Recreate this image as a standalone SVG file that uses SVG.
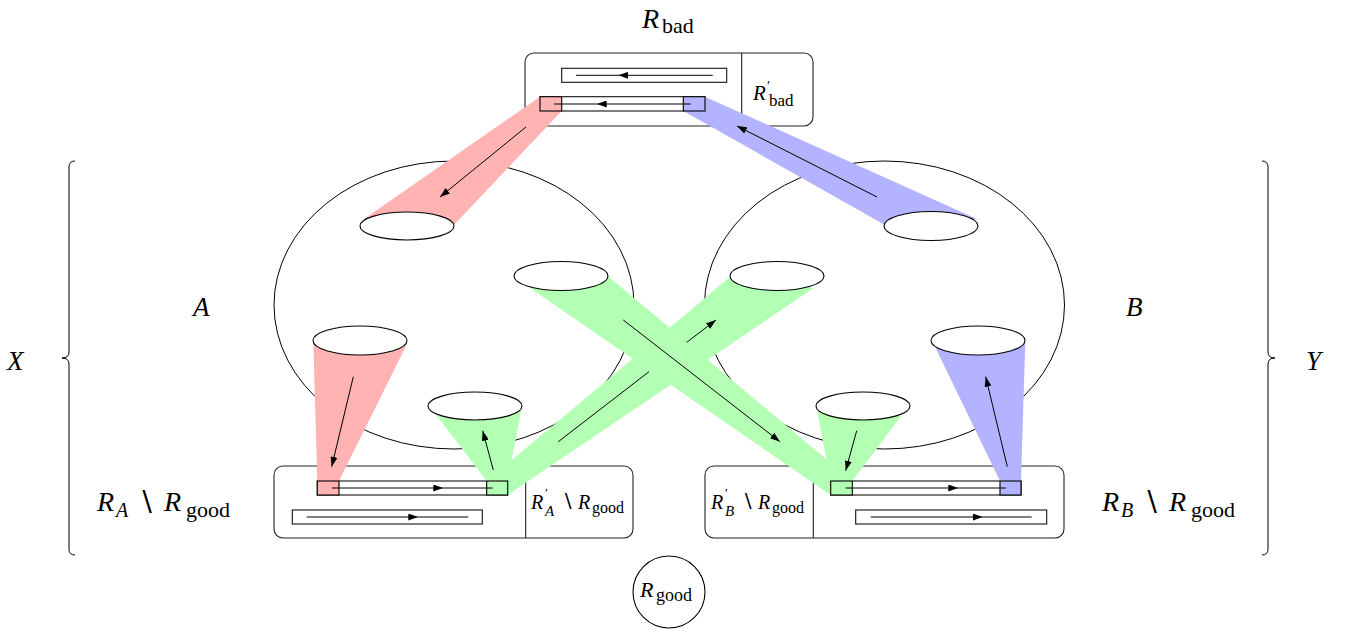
<svg xmlns="http://www.w3.org/2000/svg" width="1351" height="633" viewBox="0 0 1351 633" font-family="'Liberation Serif', 'DejaVu Serif', serif">
  <style>
    .ln{fill:none;stroke:#000;stroke-width:1}
    .box{fill:none;stroke:#222;stroke-width:1.1}
    .bar{fill:#fff;stroke:#111;stroke-width:1.1}
    .cap{fill:#fff;stroke:#000;stroke-width:1.1}
    .big{fill:none;stroke:#000;stroke-width:1}
    .red{fill:#ffb3b3}
    .blue{fill:#b3b3ff}
    .green{fill:#b3ffb3}
    .sq{stroke:#000;stroke-width:1.1}
    text{font-family:'Liberation Serif','DejaVu Serif',serif;fill:#000}
    .it{font-style:italic}
  </style>
  <defs>
    <marker id="head" viewBox="0 0 10 7" refX="10" refY="3.5" markerWidth="10" markerHeight="7" markerUnits="userSpaceOnUse" orient="auto">
      <path d="M0,0 L10,3.5 L0,7 z" fill="#000"/>
    </marker>
  </defs>

  <!-- the two large sets -->
  <g id="setA">
    <ellipse class="big" cx="454" cy="305" rx="180" ry="144"/>
    <text class="it" x="193" y="316" font-size="27">A</text>
  </g>
  <g id="setB">
    <ellipse class="big" cx="884.5" cy="305" rx="180" ry="144"/>
    <text class="it" x="1126" y="316" font-size="27">B</text>
  </g>

  <!-- region boxes -->
  <g id="rbad">
    <rect class="box" x="525" y="53" width="288" height="73" rx="9"/>
    <line class="box" x1="741.7" y1="53" x2="741.7" y2="126"/>
    <rect class="bar" x="561.7" y="68.3" width="165" height="14"/>
    <rect class="bar" x="540" y="96.7" width="165" height="14.3"/>
    <text font-size="21"><tspan class="it" x="753" y="100">R</tspan><tspan x="767" y="91" font-size="14">′</tspan><tspan x="769" y="106" font-size="17">bad</tspan></text>
  </g>
  <g id="ra">
    <rect class="box" x="274" y="466" width="359" height="72" rx="9"/>
    <line class="box" x1="525.7" y1="466" x2="525.7" y2="538"/>
    <rect class="bar" x="317.3" y="481" width="190.4" height="14"/>
    <rect class="bar" x="292.3" y="510" width="190" height="14"/>
    <text font-size="20"><tspan class="it" x="531" y="509">R</tspan><tspan x="545" y="497" font-size="13">′</tspan><tspan class="it" x="545" y="516" font-size="15">A</tspan><tspan x="561" y="509">∖</tspan><tspan class="it" x="578" y="509">R</tspan><tspan x="592" y="513" font-size="16">good</tspan></text>
  </g>
  <g id="rb">
    <rect class="box" x="705" y="466" width="359" height="72" rx="9"/>
    <line class="box" x1="813.3" y1="466" x2="813.3" y2="538"/>
    <rect class="bar" x="830.7" y="481" width="190.3" height="14"/>
    <rect class="bar" x="855.7" y="510" width="191" height="14"/>
    <text font-size="20"><tspan class="it" x="711" y="509">R</tspan><tspan x="725" y="497" font-size="13">′</tspan><tspan class="it" x="725" y="516" font-size="15">B</tspan><tspan x="741" y="509">∖</tspan><tspan class="it" x="758" y="509">R</tspan><tspan x="772" y="513" font-size="16">good</tspan></text>
  </g>
  <g id="rgood">
    <circle cx="669" cy="592" r="36" fill="none" stroke="#000" stroke-width="1.1"/>
    <text font-size="22"><tspan class="it" x="640" y="597">R</tspan><tspan x="656" y="601" font-size="18">good</tspan></text>
  </g>

  <!-- connectors: shaded beams, end squares, and flow arrows -->
  <g id="connectors">
    <polygon class="red" points="540,96.7 561.7,96.7 561.7,111 454,225 407,226 364,219"/>
    <polygon class="blue" points="683.3,111 683.3,96.7 705,96.7 977,219 931,226 885,225"/>
    <polygon class="red" points="317.3,495 317.3,481 313.3,341 360,341 406,346 339,481 339,495"/>
    <polygon class="blue" points="1000,495 1000,481 935,346.7 978,341 1025.3,341.7 1021,481 1021,495"/>
    <polygon class="green" points="486.7,495 486.7,481 435,413.3 475,406 521.7,406.7 507.7,481 507.7,495"/>
    <polygon class="green" points="830.7,495 830.7,481 816.7,408.3 863,406 903.3,413.3 852.3,481 852.3,495"/>
    <polygon class="green" points="486.7,481 730,277 777,276 813.3,288.3 507.7,495"/>
    <polygon class="green" points="514,277 561,276 608.7,276.7 852.3,481 830.7,495"/>

    <rect class="red sq" x="540" y="96.7" width="21.7" height="14.3"/>
    <rect class="blue sq" x="683.3" y="96.7" width="21.7" height="14.3"/>
    <rect class="red sq" x="317.3" y="481" width="21.7" height="14"/>
    <rect class="green sq" x="486.7" y="481" width="21" height="14"/>
    <rect class="green sq" x="830.7" y="481" width="21.6" height="14"/>
    <rect class="blue sq" x="1000" y="481" width="21" height="14"/>

    <!-- flows along the bars -->
    <path class="ln" d="M712.7,75.3 L618.3,75.3 L576,75.3" marker-mid="url(#head)"/>
    <path class="ln" d="M690.7,104 L596.7,104 L554,104" marker-mid="url(#head)"/>
    <path class="ln" d="M331.7,488 L443.3,488 L492.7,488" marker-mid="url(#head)"/>
    <path class="ln" d="M306.7,517 L418.3,517 L468.3,517" marker-mid="url(#head)"/>
    <path class="ln" d="M845.7,488 L958.3,488 L1006,488" marker-mid="url(#head)"/>
    <path class="ln" d="M870.7,517 L982.7,517 L1031.7,517" marker-mid="url(#head)"/>

    <!-- small subsets -->
    <ellipse class="cap" cx="407" cy="226" rx="47" ry="14"/>
    <ellipse class="cap" cx="931" cy="226" rx="47" ry="14.5"/>
    <ellipse class="cap" cx="561" cy="276" rx="47" ry="14.5"/>
    <ellipse class="cap" cx="777" cy="276" rx="47" ry="14.5"/>
    <ellipse class="cap" cx="360" cy="340.5" rx="47" ry="14.5"/>
    <ellipse class="cap" cx="978" cy="340.5" rx="47" ry="14.5"/>
    <ellipse class="cap" cx="475" cy="406" rx="47" ry="14"/>
    <ellipse class="cap" cx="863" cy="406" rx="47" ry="14"/>

    <!-- flows along the beams -->
    <line class="ln" x1="526" y1="127" x2="440" y2="197" marker-end="url(#head)"/>
    <line class="ln" x1="877" y1="197" x2="737" y2="126" marker-end="url(#head)"/>
    <line class="ln" x1="353.3" y1="376.7" x2="331.7" y2="466.7" marker-end="url(#head)"/>
    <line class="ln" x1="1007.3" y1="466.7" x2="985.7" y2="376.7" marker-end="url(#head)"/>
    <line class="ln" x1="493.3" y1="470" x2="482.7" y2="430.7" marker-end="url(#head)"/>
    <line class="ln" x1="856.7" y1="430.7" x2="845.7" y2="470.7" marker-end="url(#head)"/>
    <line class="ln" x1="558.3" y1="441.7" x2="649" y2="371.7"/>
    <line class="ln" x1="686.7" y1="342.3" x2="716" y2="320" marker-end="url(#head)"/>
    <line class="ln" x1="623.3" y1="320" x2="780" y2="441.7" marker-end="url(#head)"/>
  </g>

  <!-- braces and outer labels -->
  <g id="braceX">
    <path class="ln" d="M75,161 Q69,161 69,167 L69,352 Q69,358 62,358 Q69,358 69,364 L69,549 Q69,555 75,555"/>
    <text class="it" x="7" y="370" font-size="27">X</text>
  </g>
  <g id="braceY">
    <path class="ln" d="M1262,161 Q1268,161 1268,167 L1268,352 Q1268,358 1275,358 Q1268,358 1268,364 L1268,549 Q1268,555 1262,555"/>
    <text class="it" x="1306" y="370" font-size="27">Y</text>
  </g>
  <g id="labels">
    <text font-size="28"><tspan class="it" x="642" y="28">R</tspan><tspan x="662" y="33" font-size="22">bad</tspan></text>
    <text font-size="28"><tspan class="it" x="97" y="511">R</tspan><tspan class="it" x="116" y="517" font-size="20">A</tspan><tspan x="137" y="511">∖</tspan><tspan class="it" x="164" y="511">R</tspan><tspan x="186" y="517" font-size="22">good</tspan></text>
    <text font-size="28"><tspan class="it" x="1102" y="511">R</tspan><tspan class="it" x="1121" y="517" font-size="20">B</tspan><tspan x="1142" y="511">∖</tspan><tspan class="it" x="1169" y="511">R</tspan><tspan x="1191" y="517" font-size="22">good</tspan></text>
  </g>
</svg>
